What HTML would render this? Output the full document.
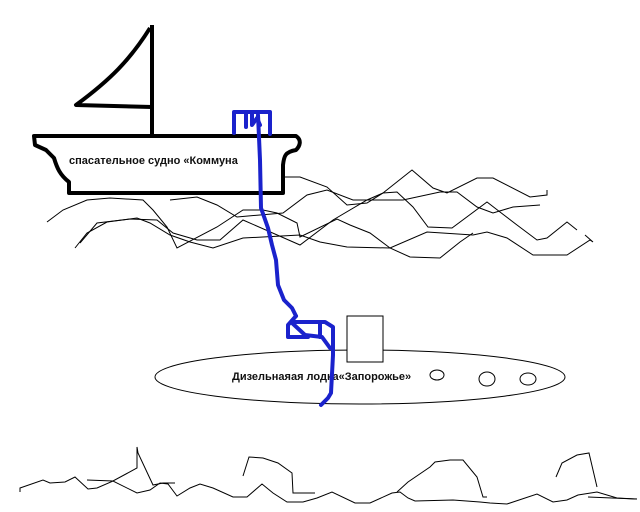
<!DOCTYPE html>
<html><head><meta charset="utf-8"><style>
html,body{margin:0;padding:0;background:#fff;width:640px;height:512px;overflow:hidden}
</style></head><body>
<svg width="640" height="512" viewBox="0 0 640 512" xmlns="http://www.w3.org/2000/svg">
<g fill="none" stroke="#000" stroke-width="1">
<!-- waves -->
<polyline points="47,222 63,210 87,200 110,198 143,200 153,210 167,227 177,248 217,227 243,210 263,210 277,213 297,223 300,237 337,219 350,225 370,233 390,248 410,257 440,258 460,242 473,233"/>
<polyline points="75,248 87,233 107,222 137,218 150,223 170,235 190,242 213,248 243,238 263,237 300,235 320,242 347,247 390,248 427,232 473,235 487,232 507,238 533,255 567,255 590,240 593,242 585,235"/>
<polyline points="80,243 97,223 130,219 157,220 173,233 197,240 220,240 243,220 300,245 333,220 367,200 383,193 397,192 413,207 428,227 452,228 487,202 500,212 517,225 537,240 547,238 567,222 577,230"/>
<polyline points="170,200 197,197 217,205 237,217 260,215 283,213 307,195 327,190 353,200 403,200 440,192 457,192 477,207 493,213 513,207 540,205"/>
<polyline points="283,177 300,177 327,187 347,205 367,203 383,193 412,170 433,188 447,193 477,178 493,178 530,197 547,195 547,190"/>
<!-- sea floor -->
<polyline points="20,492 20,488 43,480 50,483 65,482 75,477 88,489 97,488 113,481 137,493 150,490 160,483 168,484 177,496 190,488 200,484 213,488 233,497 247,497 262,484 273,493 287,502 303,502 317,498 332,492 355,503 370,503 392,493 400,492 408,498 415,501 453,500 480,502 490,503 507,504 537,494 553,502 567,500 578,495 597,492 617,498 637,499"/>
<polyline points="87,480 113,481 137,468 137,447 138,453 153,485 163,483 175,483"/>
<polyline points="243,476 249,457 263,458 278,463 292,473 293,493 315,493"/>
<polyline points="397,492 408,482 430,467 435,462 450,460 463,460 477,477 483,497 487,497"/>
<polyline points="556,477 562,463 577,455 589,453 597,487"/>
<polyline points="588,497 637,499"/>
<!-- submarine -->
<ellipse cx="360" cy="377" rx="205" ry="27"/>
<rect x="347" y="316" width="36" height="46" fill="#fff"/>
<ellipse cx="437" cy="375" rx="7" ry="5"/>
<ellipse cx="487" cy="379" rx="8" ry="7"/>
<ellipse cx="528" cy="379" rx="8" ry="6"/>
</g>
<!-- ship -->
<g fill="none" stroke="#000" stroke-width="4" stroke-linejoin="round">
<path d="M152,25 L152,145"/>
<path d="M150,28 C130,60 110,80 76,105 L152,107"/>
<path d="M34,136 L296,136 C302,140 300,146 296,150 C285,152 284,156 283,165 L283,193 L69,193 L69,182 C60,175 57,168 54,158 L46,150 L35,145 Z" fill="#fff"/>
</g>
<text x="69" y="164" font-family="Liberation Sans, sans-serif" font-size="11" font-weight="bold" fill="#111">спасательное судно «Коммуна</text>
<text x="232" y="380" font-family="Liberation Sans, sans-serif" font-size="11" font-weight="bold" fill="#111">Дизельнаяая лодка«Запорожье»</text>
<!-- blue line -->
<g fill="none" stroke="#1a22cc" stroke-width="4" stroke-linejoin="round" stroke-linecap="round">
<path d="M234,133 L234,112 L270,112 L270,134"/>
<path d="M246,112 L246,127 M252,112 L252,125 L257,118 L260,125"/>
<path d="M258,115 L260,160 L261,208 L268,228 L272,245 L276,260 L278,285 L284,300 L292,308 L296,316"/>
<path d="M296,316 L288,325 L288,337 L308,337 M291,322 L305,335 L322,337 L330,348 M291,322 L325,322 L333,327 L333,355 L331,393 L328,398 L321,405"/>
<path d="M320,322 L320,337"/>
</g>
</svg>
</body></html>
